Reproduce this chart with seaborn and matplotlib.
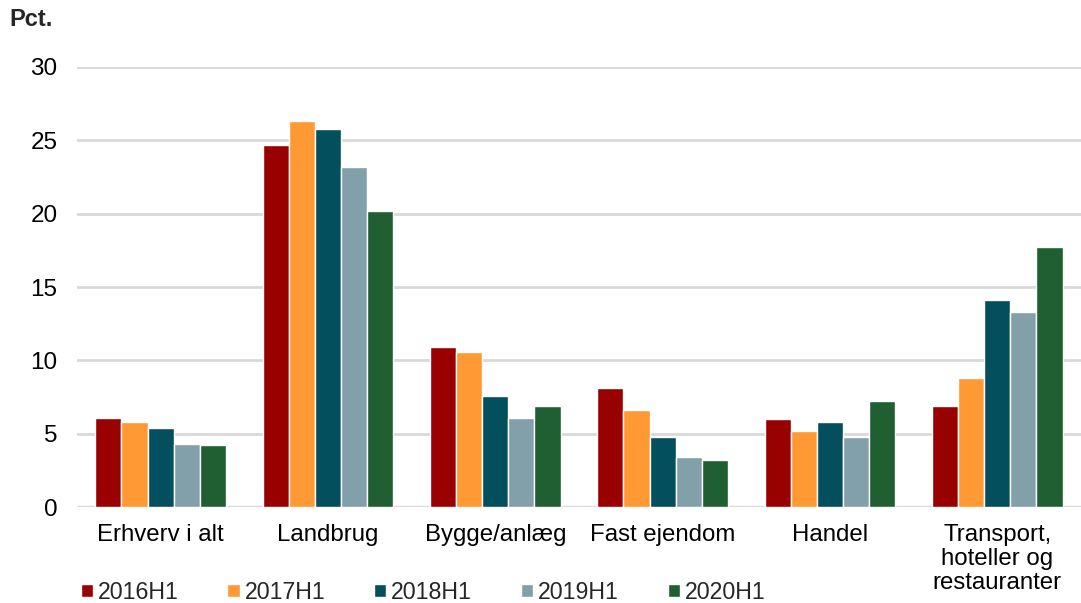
import pandas as pd
import matplotlib
matplotlib.use('Agg')
import matplotlib.pyplot as plt
import seaborn as sns

# data
categories = ['Erhverv i alt', 'Landbrug', 'Bygge/anlæg', 'Fast ejendom', 'Handel',
              'Transport,\nhoteller og\nrestauranter']
years = ['2016H1', '2017H1', '2018H1', '2019H1', '2020H1']
v2016 = [6.1, 24.7, 10.9, 8.1, 6.0, 6.9]
v2017 = [5.8, 26.3, 10.6, 6.6, 5.2, 8.8]
v2018 = [5.4, 25.8, 7.6, 4.8, 5.8, 14.1]
v2019 = [4.3, 23.2, 6.1, 3.4, 4.8, 13.3]
v2020 = [4.2, 20.2, 6.9, 3.2, 7.2, 17.7]
colors = ['#990000', '#FF9933', '#034F5E', '#82A0A9', '#1F5F31']

rows = []
for yr, vals in zip(years, [v2016, v2017, v2018, v2019, v2020]):
    for cat, v in zip(categories, vals):
        rows.append({'cat': cat, 'year': yr, 'value': v})
df = pd.DataFrame(rows)

sns.set_style('white')
plt.rcParams['font.family'] = ['Liberation Sans', 'DejaVu Sans']

fig = plt.figure(figsize=(10.81, 6.03), dpi=100)
ax = fig.add_axes([0.0712, 0.159, 0.9288, 0.73])

sns.barplot(data=df, x='cat', y='value', hue='year', palette=colors,
            order=categories, hue_order=years, width=0.78, gap=0,
            saturation=1, ax=ax, legend=True)

ax.set_ylim(0, 30)
ax.set_yticks([0, 5, 10, 15, 20, 25, 30])
ax.yaxis.grid(True, color='#D9D9D9', linewidth=2)
ax.set_axisbelow(True)
for s in ['top', 'right', 'left', 'bottom']:
    ax.spines[s].set_visible(False)
ax.axhline(0, color='#D9D9D9', linewidth=2.5, zorder=0)
ax.set_xlabel('')
ax.set_ylabel('')
ax.tick_params(axis='y', length=0, pad=14, labelsize=17.5, colors='black')
ax.tick_params(axis='x', length=0, pad=12, labelsize=17.3, colors='black')
for lbl in ax.get_xticklabels():
    lbl.set_verticalalignment('top')
    lbl.set_linespacing(1.12)
ax.set_xlim(-0.5, 5.5)

handles, labels = ax.get_legend_handles_labels()
ax.get_legend().remove()
fig.legend(handles, labels, loc='center left', bbox_to_anchor=(0.0747, 0.018),
           ncol=5, frameon=False, fontsize=16.7, handlelength=0.52,
           handleheight=0.52, handletextpad=0.22, columnspacing=2.1,
           borderpad=0, borderaxespad=0)

fig.text(0.009, 0.967, 'Pct.', fontsize=17, fontweight='bold', va='center', ha='left')

fig.savefig('out.png', dpi=100)
